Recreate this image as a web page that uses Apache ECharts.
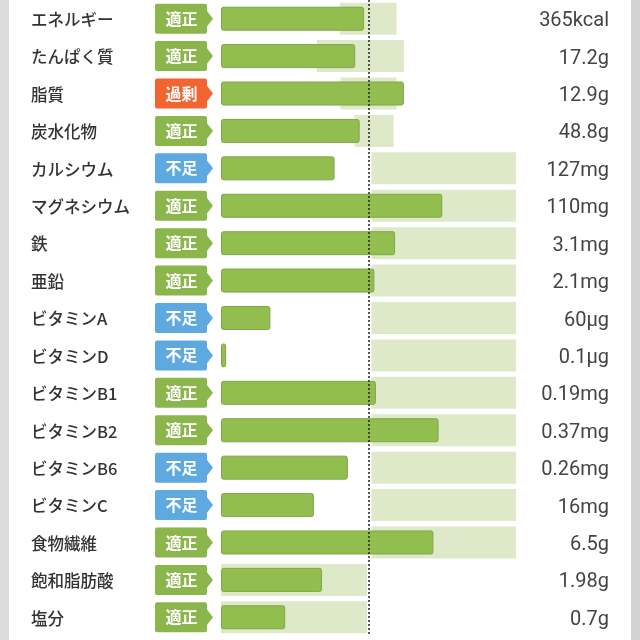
<!DOCTYPE html>
<html>
<head>
<meta charset="utf-8">
<style>
  html, body { margin: 0; padding: 0; background: #fff; }
  #chart { width: 640px; height: 640px; }
</style>
<script src="https://cdn.jsdelivr.net/npm/echarts@6/dist/echarts.min.js"></script>
</head>
<body>
<div id="chart"></div>
<script>
const nutrients = ['エネルギー', 'たんぱく質', '脂質', '炭水化物', 'カルシウム', 'マグネシウム', '鉄', '亜鉛', 'ビタミンA', 'ビタミンD', 'ビタミンB1', 'ビタミンB2', 'ビタミンB6', 'ビタミンC', '食物繊維', '飽和脂肪酸', '塩分'];
const amounts = ['365kcal', '17.2g', '12.9g', '48.8g', '127mg', '110mg', '3.1mg', '2.1mg', '60µg', '0.1µg', '0.19mg', '0.37mg', '0.26mg', '16mg', '6.5g', '1.98g', '0.7g'];
const statuses = ['適正', '適正', '過剰', '適正', '不足', '適正', '適正', '適正', '不足', '不足', '適正', '適正', '不足', '不足', '適正', '適正', '適正'];
// percent of the recommended amount, dashed line = 100
const percents = [97, 91, 124, 94, 77, 150, 118, 104, 33.5, 3.5, 105, 147.5, 86, 63, 144, 68.5, 43.5];
const rangeLow = [80.5, 65, 81, 90.5, 102, 102, 102, 102, 102, 102, 102, 102, 102, 102, 102, 0, 0];
const rangeHigh = [119, 124, 119, 117, 200, 200, 200, 200, 200, 200, 200, 200, 200, 200, 200, 99, 99];

const statusColors = { '適正': '#8ab64c', '過剰': '#f26430', '不足': '#5ea9e0' };
const jpFont = '"Noto Sans CJK JP", "Noto Sans", sans-serif';

function renderBadge(params, api) {
  const idx = api.value(1);
  const p = api.coord([0, idx]);
  const x = p[0] - 66;
  const y = p[1];
  const color = statusColors[statuses[idx]];
  return {
    type: 'group',
    children: [
      {
        type: 'rect',
        shape: { x: x, y: y - 15, width: 52, height: 30, r: 2 },
        style: { fill: color }
      },
      {
        type: 'polygon',
        shape: { points: [[x + 51, y - 9], [x + 58, y], [x + 51, y + 9]] },
        style: { fill: color }
      },
      {
        type: 'text',
        x: x + 26.5,
        y: y,
        style: {
          text: statuses[idx],
          fill: '#fff',
          font: 'bold 16px ' + jpFont,
          align: 'center',
          verticalAlign: 'middle'
        }
      }
    ]
  };
}

const chart = echarts.init(document.getElementById('chart'));
chart.setOption({
  animation: false,
  backgroundColor: '#fff',
  graphic: [
    { type: 'rect', shape: { x: 0, y: 0, width: 9, height: 640 }, style: { fill: '#dcdcdc' } },
    { type: 'rect', shape: { x: 631, y: 0, width: 9, height: 640 }, style: { fill: '#d2d2d2' } }
  ],
  grid: { left: 221, right: 124, top: 0, height: 636 },
  xAxis: { type: 'value', min: 0, max: 200, show: false },
  yAxis: [
    {
      type: 'category',
      inverse: true,
      data: nutrients,
      axisLine: { show: false },
      axisTick: { show: false },
      axisLabel: { align: 'left', verticalAlign: 'top', lineHeight: 2, margin: 190, color: '#333', fontSize: 16.5, fontWeight: 500, fontFamily: jpFont }
    },
    {
      type: 'category',
      inverse: true,
      position: 'right',
      data: amounts,
      axisLine: { show: false },
      axisTick: { show: false },
      axisLabel: { align: 'right', verticalAlign: 'top', lineHeight: 5, margin: 93, color: '#444', fontSize: 20, fontFamily: 'Roboto' }
    }
  ],
  series: [
    {
      type: 'bar',
      stack: 'range',
      yAxisIndex: 0,
      barWidth: 32,
      silent: true,
      itemStyle: { color: 'transparent' },
      data: rangeLow
    },
    {
      type: 'bar',
      stack: 'range',
      yAxisIndex: 0,
      barWidth: 32,
      silent: true,
      itemStyle: { color: '#dde9c9' },
      data: rangeHigh.map((v, i) => v - rangeLow[i])
    },
    {
      type: 'bar',
      yAxisIndex: 1,
      barWidth: 24,
      z: 3,
      itemStyle: { color: '#92bd4f', borderColor: '#7fa647', borderWidth: 1, borderRadius: 2 },
      data: percents,
      markLine: {
        silent: true,
        symbol: 'none',
        label: { show: false },
        lineStyle: { color: '#222', type: [2, 2], width: 1.5 },
        data: [{ xAxis: 100 }]
      }
    },
    {
      type: 'custom',
      yAxisIndex: 1,
      clip: false,
      z: 4,
      renderItem: renderBadge,
      encode: { x: 0, y: 1 },
      data: statuses.map((s, i) => [0, i])
    }
  ]
});
</script>
</body>
</html>
